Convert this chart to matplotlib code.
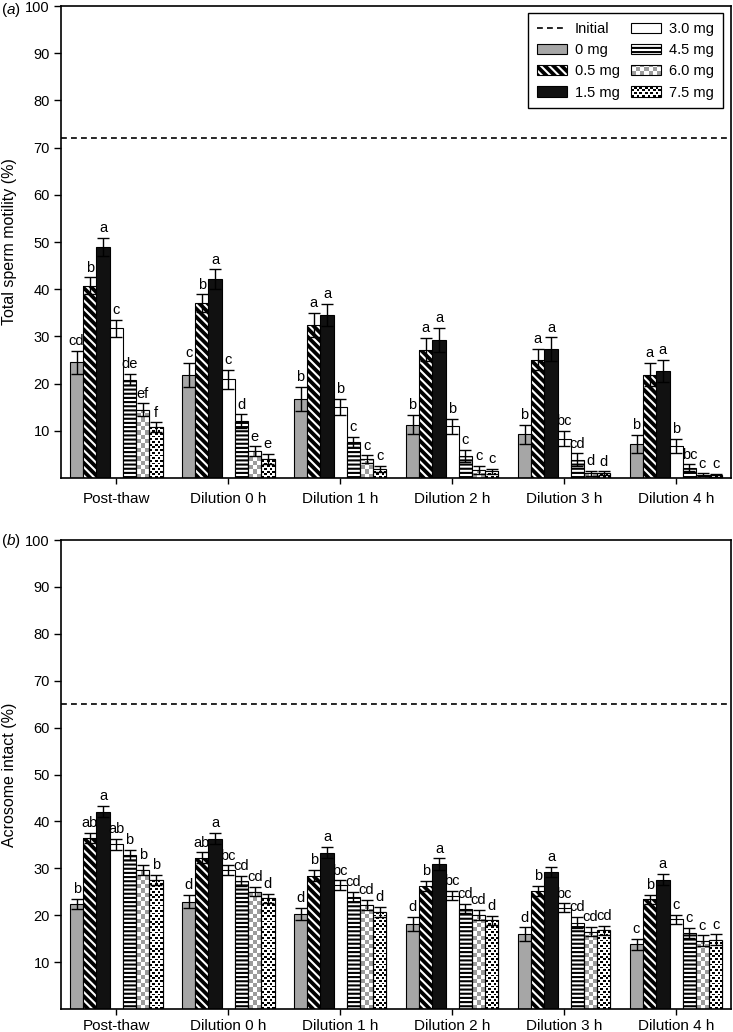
import numpy as np
import matplotlib
matplotlib.use('Agg')
import matplotlib.pyplot as plt
from matplotlib.patches import Rectangle
from matplotlib.collections import PatchCollection
from matplotlib.colors import ListedColormap
from matplotlib.lines import Line2D

plt.rcParams['font.family'] = ['Liberation Sans', 'DejaVu Sans']
plt.rcParams['mathtext.fontset'] = 'custom'
plt.rcParams['mathtext.rm'] = 'Liberation Sans'
plt.rcParams['mathtext.it'] = 'Liberation Sans:italic'
plt.rcParams['hatch.linewidth'] = 1.5

# ---- data ----
phases = ['Post-thaw', 'Dilution 0 h', 'Dilution 1 h', 'Dilution 2 h', 'Dilution 3 h', 'Dilution 4 h']
doses = ['0 mg', '0.5 mg', '1.5 mg', '3.0 mg', '4.5 mg', '6.0 mg', '7.5 mg']

motility_initial = 72
motility = [
    [24.5, 40.7, 49.0, 31.7, 20.8, 14.5, 10.8],
    [21.8, 37.0, 42.1, 20.9, 12.0, 5.7, 4.0],
    [16.8, 32.4, 34.5, 15.1, 7.6, 4.0, 1.9],
    [11.3, 27.2, 29.3, 11.0, 4.6, 1.7, 1.4],
    [9.3, 25.1, 27.3, 8.3, 3.9, 1.0, 1.0],
    [7.3, 21.9, 22.7, 6.8, 2.2, 0.7, 0.6],
]
motility_err = [
    [2.4, 1.8, 1.9, 1.8, 1.2, 1.3, 1.0],
    [2.6, 1.9, 2.1, 2.0, 1.5, 1.0, 1.1],
    [2.5, 2.5, 2.4, 1.7, 1.1, 0.8, 0.6],
    [2.0, 2.5, 2.5, 1.6, 1.3, 0.8, 0.5],
    [2.0, 2.2, 2.5, 1.6, 1.3, 0.5, 0.4],
    [1.9, 2.5, 2.4, 1.5, 0.7, 0.3, 0.3],
]
motility_letters = [
    ['cd', 'b', 'a', 'c', 'de', 'ef', 'f'],
    ['c', 'b', 'a', 'c', 'd', 'e', 'e'],
    ['b', 'a', 'a', 'b', 'c', 'c', 'c'],
    ['b', 'a', 'a', 'b', 'c', 'c', 'c'],
    ['b', 'a', 'a', 'bc', 'cd', 'd', 'd'],
    ['b', 'a', 'a', 'b', 'bc', 'c', 'c'],
]

acrosome_initial = 65
acrosome = [
    [22.4, 36.4, 42.1, 35.1, 32.8, 29.6, 27.5],
    [22.9, 32.3, 36.3, 29.6, 27.3, 25.0, 23.6],
    [20.2, 28.4, 33.3, 26.4, 23.9, 22.2, 20.7],
    [18.1, 26.2, 30.9, 24.2, 21.4, 20.0, 18.9],
    [15.9, 25.1, 29.2, 21.6, 18.4, 16.5, 16.8],
    [13.8, 23.4, 27.6, 19.1, 16.2, 14.6, 14.8],
]
acrosome_err = [
    [1.0, 1.1, 1.2, 1.1, 1.1, 1.1, 1.1],
    [1.4, 1.1, 1.2, 1.0, 1.1, 1.0, 0.9],
    [1.3, 1.2, 1.2, 1.0, 1.1, 1.0, 1.0],
    [1.5, 1.1, 1.2, 1.0, 1.0, 1.1, 1.0],
    [1.5, 1.1, 1.1, 0.9, 1.2, 1.0, 1.0],
    [1.2, 1.0, 1.2, 1.0, 1.1, 1.1, 1.1],
]
acrosome_letters = [
    ['b', 'ab', 'a', 'ab', 'b', 'b', 'b'],
    ['d', 'ab', 'a', 'bc', 'cd', 'cd', 'd'],
    ['d', 'b', 'a', 'bc', 'cd', 'cd', 'd'],
    ['d', 'b', 'a', 'bc', 'cd', 'cd', 'd'],
    ['d', 'b', 'a', 'bc', 'cd', 'cd', 'cd'],
    ['c', 'b', 'a', 'c', 'c', 'c', 'c'],
]

# ---- fill styles for the doses ----
checker = np.array([[1, 0], [0, 1]])
dots = np.array([
    [1, 1, 1, 0, 0, 0],
    [1, 1, 1, 0, 0, 0],
    [0, 0, 0, 0, 0, 0],
    [0, 0, 0, 1, 1, 1],
    [0, 0, 0, 1, 1, 1],
    [0, 0, 0, 0, 0, 0],
])
styles = [
    dict(face='#a6a6a6'),
    dict(face='black', hatch='\\\\\\\\', hcolor='white'),
    dict(face='#111111'),
    dict(face='white'),
    dict(face='white', hatch='----', hcolor='black'),
    dict(face='white', tile=checker, tcolor='#9c9c9c', cell=4.3),
    dict(face='white', tile=dots, tcolor='black', cell=0.9),
]
DPI = 100
BAR_W = 0.118


def add_texture(ax, rect, st):
    # tile pattern clipped to one bar, sized in screen pixels
    x0, x1 = ax.get_xlim()
    y0, y1 = ax.get_ylim()
    sx = ax.bbox.width / (x1 - x0)
    sy = ax.bbox.height / (y1 - y0)
    cell = st['cell']
    nx = int(np.ceil(rect.get_width() * sx / cell))
    ny = int(np.ceil(rect.get_height() * sy / cell))
    if nx < 1 or ny < 1:
        return
    tr, tc = st['tile'].shape
    arr = np.tile(st['tile'], (ny // tr + 1, nx // tc + 1))[:ny, :nx]
    ext = [rect.get_x(), rect.get_x() + nx * cell / sx, 0, ny * cell / sy]
    im = ax.imshow(arr, cmap=ListedColormap([st['face'], st['tcolor']]), vmin=0, vmax=1,
                   interpolation='nearest', origin='lower', extent=ext, aspect='auto', zorder=2.1)
    im.set_clip_path(rect)


class SwatchHandler:
    def __init__(self, st):
        self.st = st

    def legend_artist(self, legend, orig_handle, fontsize, handlebox):
        st = self.st
        x0, y0 = handlebox.xdescent, handlebox.ydescent
        w, h = handlebox.width, handlebox.height
        tr = handlebox.get_transform()
        base = Rectangle((x0, y0), w, h, facecolor=st['face'], lw=0, transform=tr)
        if 'hatch' in st:
            base.set_hatch(st['hatch'])
            base.set_edgecolor(st['hcolor'])
        handlebox.add_artist(base)
        if 'tile' in st:
            c = st['cell'] * 72 / DPI
            tile = st['tile']
            cells = []
            for r in range(int(np.ceil(h / c))):
                for k in range(int(np.ceil(w / c))):
                    if tile[r % tile.shape[0], k % tile.shape[1]]:
                        cw = min(c, w - k * c)
                        ch = min(c, h - r * c)
                        cells.append(Rectangle((x0 + k * c, y0 + r * c), cw, ch))
            handlebox.add_artist(PatchCollection(cells, facecolor=st['tcolor'], lw=0, transform=tr))
        outline = Rectangle((x0, y0), w, h, fill=False, edgecolor='black', lw=0.8, transform=tr)
        handlebox.add_artist(outline)
        return outline


def draw_panel(ax, means, errs, letters, initial, ylabel, tag, xpad):
    ax.set_xlim(-0.494, len(phases) - 0.51)
    ax.set_ylim(0, 100)
    means = np.array(means)
    errs = np.array(errs)
    groups = np.arange(len(phases))
    for i, st in enumerate(styles):
        x = groups + (i - 3) * BAR_W
        if 'hatch' in st:
            ax.bar(x, means[:, i], BAR_W, color=st['face'], edgecolor=st['hcolor'],
                   hatch=st['hatch'], lw=0, zorder=2)
            ax.bar(x, means[:, i], BAR_W, fill=False, edgecolor='black', lw=0.8, zorder=2.2)
        else:
            bars = ax.bar(x, means[:, i], BAR_W, color=st['face'], edgecolor='black', lw=0.8, zorder=2)
            if 'tile' in st:
                for b in bars:
                    add_texture(ax, b, st)
                ax.bar(x, means[:, i], BAR_W, fill=False, edgecolor='black', lw=0.8, zorder=2.2)
        ax.errorbar(x, means[:, i], yerr=errs[:, i], fmt='none', ecolor='black',
                    elinewidth=1, capsize=4, capthick=1, zorder=3)
        for g in groups:
            ax.annotate(letters[g][i], (x[g], means[g, i] + errs[g, i]), xytext=(0, 2),
                        textcoords='offset points', ha='center', va='bottom', fontsize=10.5)
    ax.axhline(initial, color='black', lw=1.2, ls=(0, (3.5, 2.5)), zorder=1)
    ax.set_xticks(groups)
    ax.set_xticklabels(phases, fontsize=11)
    ax.set_yticks(np.arange(10, 101, 10))
    ax.tick_params(axis='y', direction='out', length=5, width=1, labelsize=10.5, pad=3)
    ax.tick_params(axis='x', direction='out', length=4, width=1, pad=xpad)
    for s in ax.spines.values():
        s.set_linewidth(1.2)
    ax.set_ylabel(ylabel, fontsize=11.5, labelpad=6)
    pos = ax.get_position()
    ax.figure.text(0.002, min(pos.y1 + 8 / 1032, 0.999), '(' + r'$\it{' + tag + '}$' + ')',
                   fontsize=11, ha='left', va='top')


fig = plt.figure(figsize=(7.33, 10.32), dpi=DPI)
ax_a = fig.add_axes([61 / 733, 1 - 478 / 1032, 670 / 733, 472 / 1032])
ax_b = fig.add_axes([61 / 733, 1 - 1009 / 1032, 670 / 733, 469 / 1032])

draw_panel(ax_a, motility, motility_err, motility_letters, motility_initial,
           'Total sperm motility (%)', 'a', 6)
draw_panel(ax_b, acrosome, acrosome_err, acrosome_letters, acrosome_initial,
           'Acrosome intact (%)', 'b', 3.5)

# legend: first column Initial + 3 doses, second column the rest
proxies = [Line2D([], [], color='black', lw=1.2, ls=(0, (3.5, 2.5)))]
hmap = {}
for st in styles:
    p = Rectangle((0, 0), 1, 1)
    proxies.append(p)
    hmap[p] = SwatchHandler(st)
leg = ax_a.legend(proxies, ['Initial'] + doses, ncol=2, loc='upper right',
                  bbox_to_anchor=(1 - 8 / 670, 1 - 7 / 472), borderaxespad=0,
                  handler_map=hmap, fontsize=10.5, fancybox=False, framealpha=1,
                  edgecolor='black', handlelength=2.05, handleheight=0.7,
                  handletextpad=0.55, columnspacing=0.8, labelspacing=0.5, borderpad=0.6)
leg.get_frame().set_linewidth(1.0)

fig.savefig('out.png', dpi=DPI)
